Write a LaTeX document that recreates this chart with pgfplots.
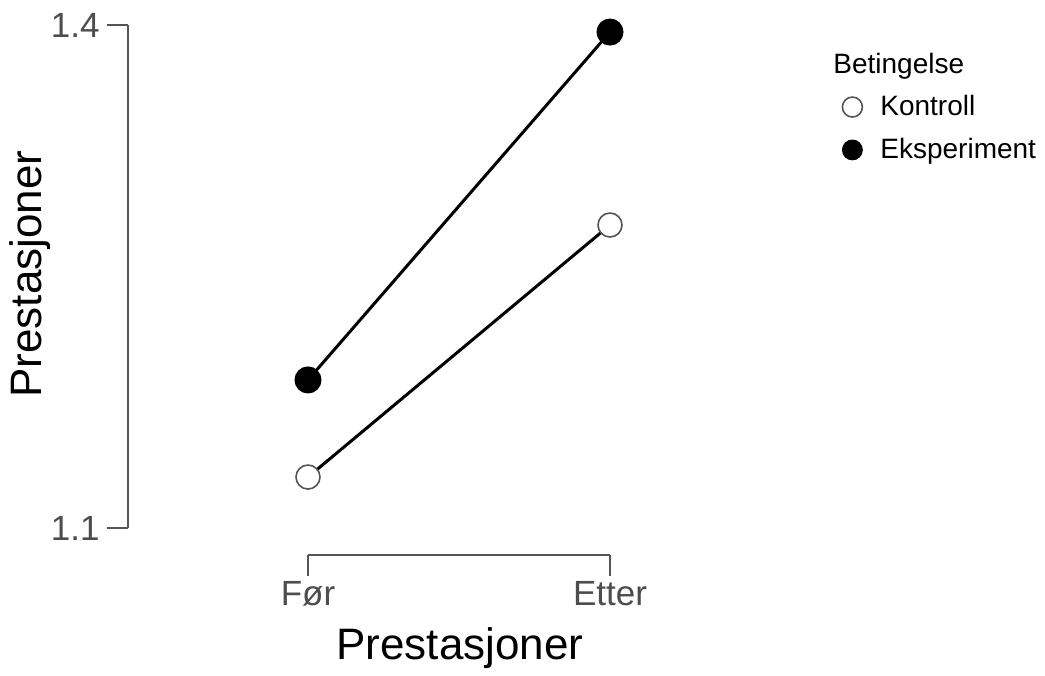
\documentclass[border=0pt]{standalone}
\usepackage{pgfplots}
\pgfplotsset{compat=1.18}
\usepackage{fontspec}
\setmainfont{Liberation Sans}
\definecolor{axgray}{HTML}{555555}
\definecolor{lblgray}{HTML}{4D4D4D}
\definecolor{opengray}{HTML}{555555}
\begin{document}
\begin{tikzpicture}[x=1pt,y=1pt]
\begin{axis}[
  name=ax,
  scale only axis,
  width=286.3pt, height=265pt,
  xmin=-0.596, xmax=1.3,
  ymin=1.0839, ymax=1.4,
  clip=false,
  axis lines*=left,
  axis line style={draw=none},
  tick align=outside,
  major tick length=10.5pt,
  tick style={axgray, line width=1pt},
  xtick={0,1}, xticklabels={Før,Etter},
  ytick={1.1,1.4},
  /pgf/number format/.cd, fixed, fixed zerofill, precision=1, assume math mode=true,
  /pgfplots/.cd,
  ticklabel style={font=\fontsize{17.5}{20}\selectfont, text=lblgray, inner sep=0pt},
  yticklabel style={xshift=-3.5pt},
  xticklabel style={yshift=-2.5pt},
  xlabel={Prestasjoner}, ylabel={Prestasjoner},
  label style={font=\fontsize{22}{26}\selectfont},
  xlabel style={at={(axis description cs:0.5798,-0.198)}, anchor=base},
  ylabel style={at={(axis description cs:-0.1502,0.530)}, anchor=base},
  legend image code/.code={\draw[#1] plot coordinates {(0pt,0pt)}; \path[draw=none, fill=none] (-5.5pt,-5pt) rectangle (14pt,5pt);},
  legend style={at={(axis description cs:1.2452,0.8679)}, anchor=north west,
    draw=none, fill=none, font=\fontsize{14}{16}\selectfont, row sep=9.8pt,
    inner sep=0pt, nodes={inner sep=0pt}},
  legend cell align=left,
]
% axis lines (only between data range)
\draw[axgray, line width=1pt] (axis cs:-0.596,1.1) -- (axis cs:-0.596,1.4);
\draw[axgray, line width=1pt] (axis cs:0,1.0839) -- (axis cs:1,1.0839);
% Kontroll
\addplot[black, line width=1.5pt, mark=*, mark size=6pt,
  mark options={fill=white, draw=opengray, line width=0.8pt}, forget plot]
  coordinates {(0,1.1304) (1,1.2807)};
% Eksperiment
\addplot[black, line width=1.5pt, mark=*, mark size=6pt,
  mark options={fill=black, draw=black}, forget plot]
  coordinates {(0,1.1883) (1,1.3958)};
\addlegendimage{only marks, mark=*, mark size=5pt, mark options={fill=white, draw=opengray, line width=0.8pt}}
\addlegendentry{Kontroll}
\addlegendimage{only marks, mark=*, mark size=5pt, mark options={fill=black, draw=black}}
\addlegendentry{Eksperiment}
\node[anchor=base west, font=\fontsize{14}{16}\selectfont, inner sep=0pt] at (axis description cs:1.2312,0.9094) {Betingelse};
\end{axis}
\path (ax.south west) ++(-64pt,-58pt) rectangle ++(522.5pt,335.5pt);
\end{tikzpicture}
\end{document}
